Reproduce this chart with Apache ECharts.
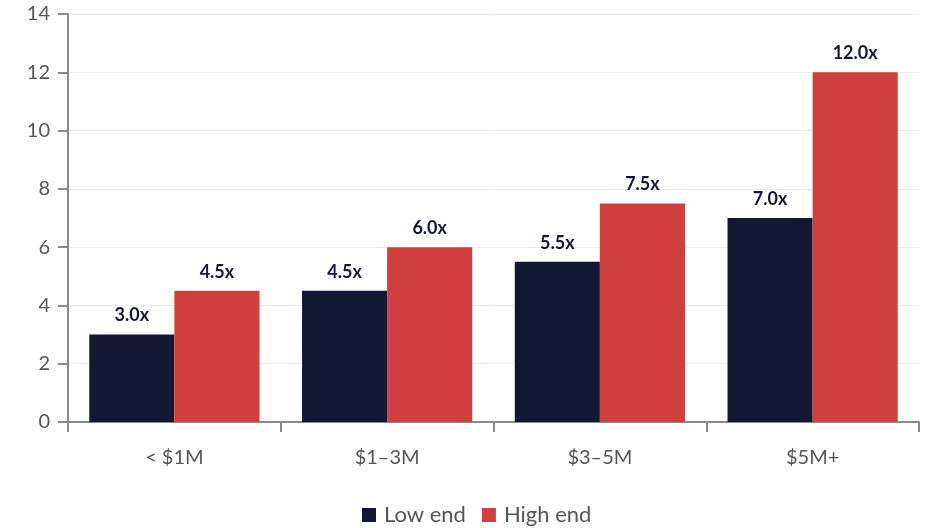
<!DOCTYPE html>
<html><head><meta charset="utf-8">
<script src="https://cdn.jsdelivr.net/npm/echarts@6/dist/echarts.min.js"></script>
<style>html,body{margin:0;padding:0;background:#fff}#c{width:929px;height:528px}</style>
</head><body><div id="c"></div>
<script>
const categories = ['< $1M', '$1\u20133M', '$3\u20135M', '$5M+'];
const lowEnd = [3.0, 4.5, 5.5, 7.0];
const highEnd = [4.5, 6.0, 7.5, 12.0];
const yTicks = {min: 0, max: 14, interval: 2};

const chart = echarts.init(document.getElementById('c'));
const font = 'Lato, "Noto Sans", sans-serif';
const label = {
  show: true, position: 'top', distance: 10,
  formatter: p => p.value.toFixed(1) + 'x',
  fontFamily: font, fontWeight: 'bold', fontSize: 18, color: '#141833'
};
chart.setOption({
  animation: false,
  textStyle: {fontFamily: font},
  grid: {left: 68, right: 10, top: 14, bottom: 106, containLabel: false},
  legend: {
    bottom: -3, left: 357, itemWidth: 14, itemHeight: 14, itemGap: 16,
    icon: 'rect',
    textStyle: {fontFamily: font, fontSize: 22, color: '#555', padding: [0, 0, 0, 3]},
    data: ['Low end', 'High end']
  },
  xAxis: {
    type: 'category', data: categories,
    axisLine: {lineStyle: {color: '#8a8a8a', width: 2}},
    axisTick: {show: true, length: 10, lineStyle: {color: '#8a8a8a', width: 2}},
    axisLabel: {fontFamily: font, fontSize: 20, color: '#555', margin: 26}
  },
  yAxis: {
    type: 'value', min: yTicks.min, max: yTicks.max, interval: yTicks.interval,
    axisLine: {show: true, lineStyle: {color: '#8a8a8a', width: 2}},
    axisTick: {show: true, length: 10, lineStyle: {color: '#8a8a8a', width: 2}},
    axisLabel: {fontFamily: font, fontSize: 20, color: '#555', margin: 18},
    splitLine: {lineStyle: {color: '#ececec', width: 1}}
  },
  series: [
    {name: 'Low end', type: 'bar', data: lowEnd, itemStyle: {color: '#131731'},
     barGap: '0%', barCategoryGap: '20%', label: label},
    {name: 'High end', type: 'bar', data: highEnd, itemStyle: {color: '#d03f3e'},
     barGap: '0%', barCategoryGap: '20%', label: label}
  ]
});
</script></body></html>
